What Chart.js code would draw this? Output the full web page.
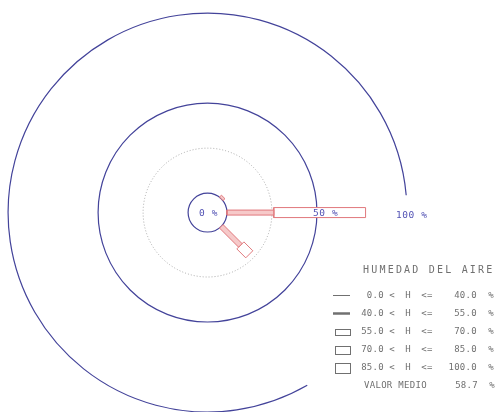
<!DOCTYPE html>
<html><head><meta charset="utf-8">
<script src="https://cdn.jsdelivr.net/npm/chart.js@4.4.1/dist/chart.umd.min.js"></script>
<style>html,body{margin:0;padding:0;background:#fff;overflow:hidden}canvas{display:block}</style>
</head><body>
<canvas id="c" width="502" height="412"></canvas>
<script>
// ---- data ----
const directions = ['N','NE','E','SE','S','SW','W','NW'];
const directionAngles = [0,45,90,135,180,225,270,315];
const h0to40   = [0, 0,   0,  0, 0, 0, 0, 0];
const h40to55  = [0, 1.5, 26, 15, 0, 0, 0, 0];
const h55to70  = [0, 0,   51, 7, 0, 0, 0, 0];
const h70to85  = [0, 0,   0,  0, 0, 0, 0, 0];
const h85to100 = [0, 0,   0,  0, 0, 0, 0, 0];
const classLow  = ['0.0','40.0','55.0','70.0','85.0'];
const classHigh = ['40.0','55.0','70.0','85.0','100.0'];
const ringValues = [0, 25, 50, 100];
const ringLabels = ['0 %', '', '50 %', '100 %'];
const legendTitle = 'HUMEDAD DEL AIRE';
const meanLabel = 'VALOR MEDIO';
const meanValue = 58.7;

// ---- styling / geometry ----
const X_MIN = -115.3, X_MAX = 163.6, Y_MIN = -110.8, Y_MAX = 118.1;
const PX = 502 / (X_MAX - X_MIN);
const R0 = 10.8;                       // radial offset of the 0 % ring (in % units)
const classSeries = [h0to40, h40to55, h55to70, h70to85, h85to100];
const classHalfWidth = [0.5, 2.5, 5, 6.5, 8];   // px
const BAR_STROKE = '#e0787c';
const BAR_STRIP = '#f6c9c9';
const RING = '#43439a';
const RING_LABEL = '#5252b4';
const TEXT = '#707070';

function segPolygon(angleDeg, s, e, hwPx){
  const t = angleDeg * Math.PI / 180;
  const ux = Math.sin(t), uy = Math.cos(t);
  const nx = Math.cos(t), ny = -Math.sin(t);
  const hw = hwPx / PX;
  const r1 = R0 + s, r2 = R0 + e;
  const a = {x: r1*ux + hw*nx, y: r1*uy + hw*ny};
  const b = {x: r2*ux + hw*nx, y: r2*uy + hw*ny};
  const c = {x: r2*ux - hw*nx, y: r2*uy - hw*ny};
  const d = {x: r1*ux - hw*nx, y: r1*uy - hw*ny};
  return [a, b, c, d, {x: a.x, y: a.y}];
}

const datasets = [];
directions.forEach((dir, i) => {
  let cum = 0;
  classSeries.forEach((series, k) => {
    const v = series[i];
    if (v > 0) {
      datasets.push({
        label: dir + ' ' + classLow[k] + '-' + classHigh[k],
        data: segPolygon(directionAngles[i], cum, cum + v, classHalfWidth[k]),
        showLine: true,
        borderColor: BAR_STROKE,
        borderWidth: 1,
        backgroundColor: k === 1 ? BAR_STRIP : '#ffffff',
        fill: k >= 1 ? 'shape' : false,
        pointRadius: 0,
        tension: 0
      });
      cum += v;
    }
  });
});

const rosePlugin = {
  id: 'rose',
  beforeDatasetsDraw(chart){
    const {ctx, scales: {x, y}} = chart;
    const cx = x.getPixelForValue(0), cy = y.getPixelForValue(0);
    const rad = p => x.getPixelForValue(R0 + p) - cx;
    ctx.save();
    ringValues.forEach(v => {
      ctx.beginPath();
      if (v === 25) {
        ctx.setLineDash([1, 2]);
        ctx.strokeStyle = '#a8a8a8';
        ctx.lineWidth = 1;
        ctx.arc(cx, cy, rad(v), 0, Math.PI * 2);
      } else if (v === 100) {
        ctx.setLineDash([]);
        ctx.strokeStyle = RING;
        ctx.lineWidth = 1.2;
        ctx.arc(cx, cy, rad(v), 60 * Math.PI / 180, 355 * Math.PI / 180);
      } else {
        ctx.setLineDash([]);
        ctx.strokeStyle = RING;
        ctx.lineWidth = 1.2;
        ctx.arc(cx, cy, rad(v), 0, Math.PI * 2);
      }
      ctx.stroke();
    });
    ctx.restore();
  },
  afterDatasetsDraw(chart){
    const {ctx, scales: {x, y}} = chart;
    const cx = x.getPixelForValue(0), cy = y.getPixelForValue(0);
    const rad = p => x.getPixelForValue(R0 + p) - cx;
    ctx.save();
    ctx.font = '9.5px "DejaVu Sans Mono"';
    if ('letterSpacing' in ctx) ctx.letterSpacing = '0.6px';
    ctx.fillStyle = RING_LABEL;
    ctx.textBaseline = 'middle';
    ctx.textAlign = 'center';
    ctx.fillText(ringLabels[0], cx + 1, cy + 0.5);
    ctx.textAlign = 'left';
    ctx.fillText(ringLabels[2], cx + rad(50) - 4, cy + 0.5);
    ctx.fillText(ringLabels[3], cx + rad(100) - 11, cy + 3);
    ctx.restore();

    // legend
    ctx.save();
    ctx.fillStyle = TEXT;
    ctx.strokeStyle = '#707070';
    ctx.textBaseline = 'middle';
    ctx.font = '10px "DejaVu Sans Mono"';
    if ('letterSpacing' in ctx) ctx.letterSpacing = '2.2px';
    ctx.textAlign = 'left';
    ctx.fillText(legendTitle, 363, 270);
    ctx.font = '9px "DejaVu Sans Mono"';
    if ('letterSpacing' in ctx) ctx.letterSpacing = '0.3px';
    const rowY = i => 295.5 + i * 18;
    classLow.forEach((lo, i) => {
      const yy = rowY(i);
      ctx.textAlign = 'right';
      ctx.fillText(lo, 384, yy);
      ctx.textAlign = 'center';
      ctx.fillText('<', 392, yy);
      ctx.fillText('H', 408, yy);
      ctx.fillText('<=', 427, yy);
      ctx.textAlign = 'right';
      ctx.fillText(classHigh[i], 477, yy);
      ctx.textAlign = 'center';
      ctx.fillText('%', 491, yy);
      // symbol
      ctx.beginPath();
      if (i === 0) {
        ctx.lineWidth = 1;
        ctx.moveTo(333, yy); ctx.lineTo(350, yy); ctx.stroke();
      } else if (i === 1) {
        ctx.lineWidth = 2.5;
        ctx.moveTo(333, yy); ctx.lineTo(350, yy); ctx.stroke();
      } else {
        const h = [0, 0, 6, 8, 10][i];
        ctx.lineWidth = 1;
        ctx.strokeRect(335.5, Math.round(yy - h / 2) + 0.5, 15, h);
      }
    });
    const ym = rowY(5);
    ctx.textAlign = 'left';
    ctx.fillText(meanLabel, 364, ym);
    ctx.textAlign = 'right';
    ctx.fillText(meanValue.toFixed(1), 478, ym);
    ctx.textAlign = 'center';
    ctx.fillText('%', 492, ym);
    ctx.restore();
  }
};

new Chart(document.getElementById('c'), {
  type: 'scatter',
  data: { datasets },
  options: {
    responsive: false,
    animation: false,
    events: [],
    layout: { padding: 0 },
    plugins: { legend: { display: false }, tooltip: { enabled: false }, title: { display: false } },
    scales: {
      x: { type: 'linear', display: false, min: X_MIN, max: X_MAX },
      y: { type: 'linear', display: false, min: Y_MIN, max: Y_MAX }
    }
  },
  plugins: [rosePlugin]
});
</script>
</body></html>
